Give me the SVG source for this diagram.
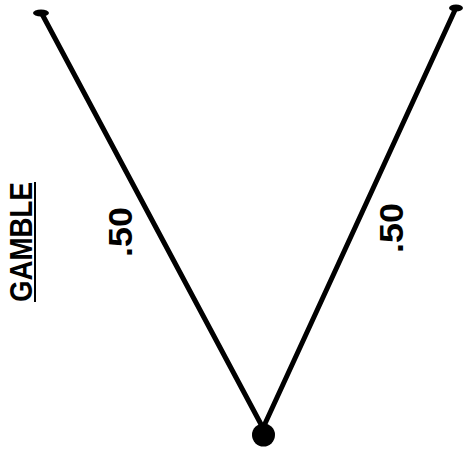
<svg xmlns="http://www.w3.org/2000/svg" width="463" height="452" viewBox="0 0 463 452">
<style>
.ln{stroke:#000;stroke-width:5;fill:none;stroke-linecap:round}
.lbl{font-family:"Liberation Sans",Arial,sans-serif;font-weight:bold;fill:#000}
</style>
<rect width="463" height="452" fill="#fff"/>
<g id="connectors">
<line class="ln" x1="42" y1="14" x2="263" y2="428"/>
<line class="ln" x1="455" y1="10" x2="263" y2="428"/>
</g>
<g id="left-end"><ellipse cx="41" cy="13" rx="8" ry="3.5" fill="#000"/></g>
<g id="right-end"><ellipse cx="456" cy="8" rx="7" ry="3.5" fill="#000"/></g>
<g id="origin"><circle cx="263.5" cy="435" r="11.5" fill="#000"/></g>
<g id="left-prob"><text class="lbl" font-size="33" text-anchor="middle" transform="translate(132,232) rotate(-90)" textLength="50" lengthAdjust="spacingAndGlyphs">.50</text></g>
<g id="right-prob"><text class="lbl" font-size="33" text-anchor="middle" transform="translate(403,228) rotate(-90)" textLength="50" lengthAdjust="spacingAndGlyphs">.50</text></g>
<g id="title"><text class="lbl" font-size="31" text-anchor="middle" transform="translate(32,242) rotate(-90)" textLength="120" lengthAdjust="spacingAndGlyphs">GAMBLE</text>
<line x1="35" y1="182" x2="35" y2="302" stroke="#000" stroke-width="2"/></g>
</svg>
